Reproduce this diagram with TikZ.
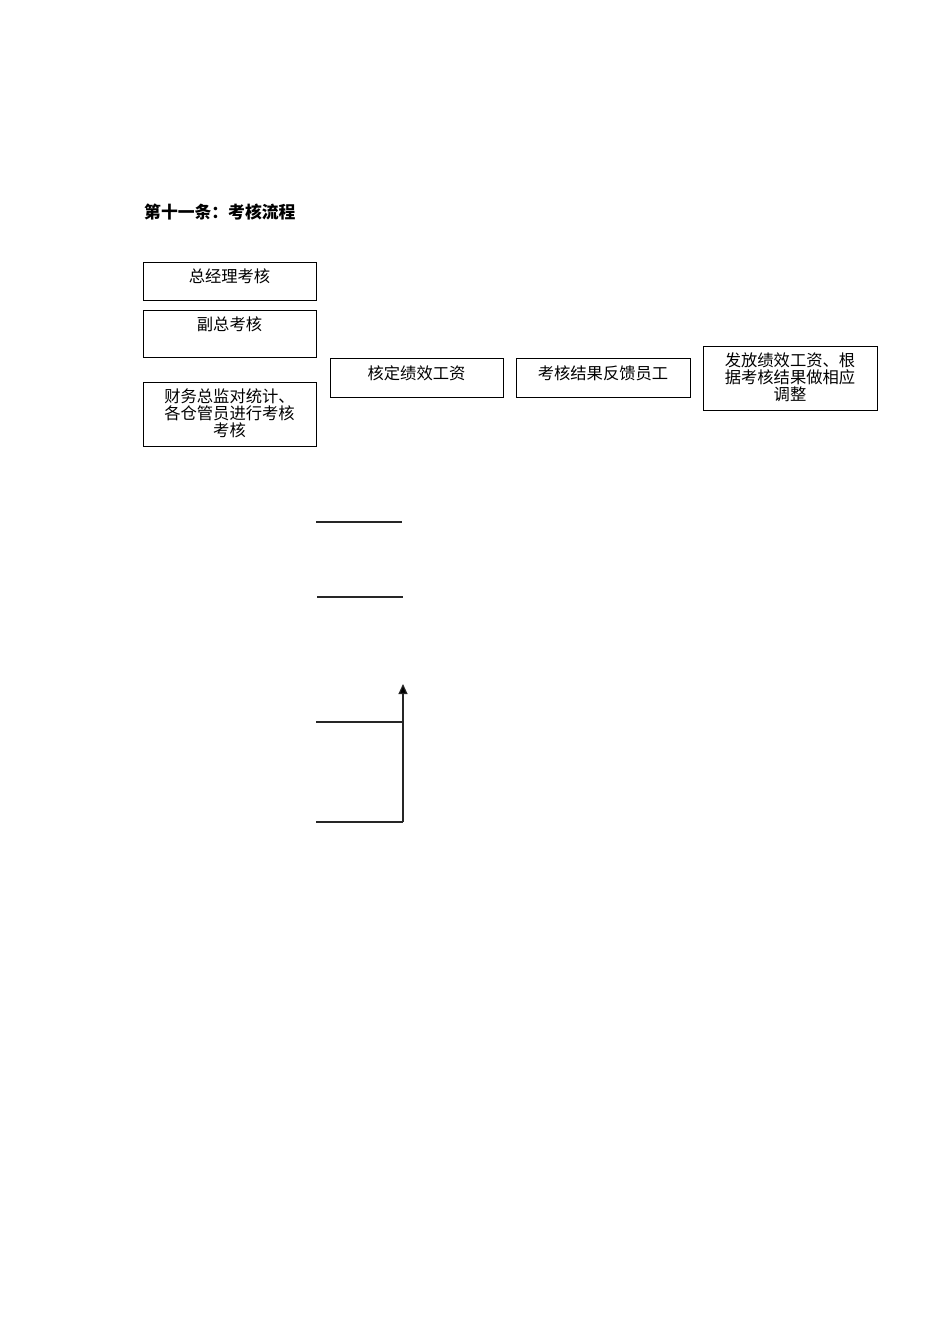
\documentclass[tikz,border=0pt]{standalone}
\usepackage{fontspec}
\newfontfamily\cjk{Noto Sans CJK SC}
\usetikzlibrary{arrows.meta}
\begin{document}
\begin{tikzpicture}[x=1pt,y=-1pt,
  box/.style={draw=black,line width=1pt,rectangle,inner sep=0pt},
  boxtext/.style={anchor=north,align=center,inner sep=0pt,font=\cjk\fontsize{16.3}{17}\selectfont},
  conn/.style={draw=black!85,line width=1.1pt}]
\useasboundingbox (0,0) rectangle (950,1344);
\node[anchor=west,inner sep=0pt,font=\cjk\bfseries\fontsize{16.8}{18}\selectfont] (title) at (144,212) {第十一条：考核流程};
% boxes
\node[box,minimum width=173pt,minimum height=38pt] (b1) at (229.5,281) {};
\node[box,minimum width=173pt,minimum height=47pt] (b2) at (229.5,333.5) {};
\node[box,minimum width=173pt,minimum height=64pt] (b3) at (229.5,414) {};
\node[box,minimum width=173pt,minimum height=39pt] (b4) at (416.5,377.5) {};
\node[box,minimum width=174pt,minimum height=39pt] (b5) at (603,377.5) {};
\node[box,minimum width=174pt,minimum height=64pt] (b6) at (790,378) {};
% texts
\node[boxtext] (t1) at ([yshift=-7pt]b1.north) {总经理考核};
\node[boxtext] (t2) at ([yshift=-7pt]b2.north) {副总考核};
\node[boxtext] (t3) at ([yshift=-7pt]b3.north) {财务总监对统计、\\各仓管员进行考核\\考核};
\node[boxtext] (t4) at ([yshift=-8pt]b4.north) {核定绩效工资};
\node[boxtext] (t5) at ([yshift=-8pt]b5.north) {考核结果反馈员工};
\node[boxtext] (t6) at ([yshift=-7pt]b6.north) {发放绩效工资、根\\据考核结果做相应\\调整};
% free lines
\coordinate (l1a) at (316,522); \coordinate (l1b) at (402,522);
\coordinate (l2a) at (317,597); \coordinate (l2b) at (403,597);
\coordinate (l3a) at (316,722); \coordinate (l3b) at (403,722);
\coordinate (l4a) at (316,822); \coordinate (l4b) at (403,822);
\coordinate (tip) at (403,684);
\draw[conn] (l1a) -- (l1b);
\draw[conn] (l2a) -- (l2b);
\draw[conn] (l3a) -- (l3b);
\draw[conn] (l4a) -- (l4b);
\draw[conn,-{Triangle[length=10pt,width=9pt,fill=black]}] (l4b) -- (tip);
\end{tikzpicture}
\end{document}
